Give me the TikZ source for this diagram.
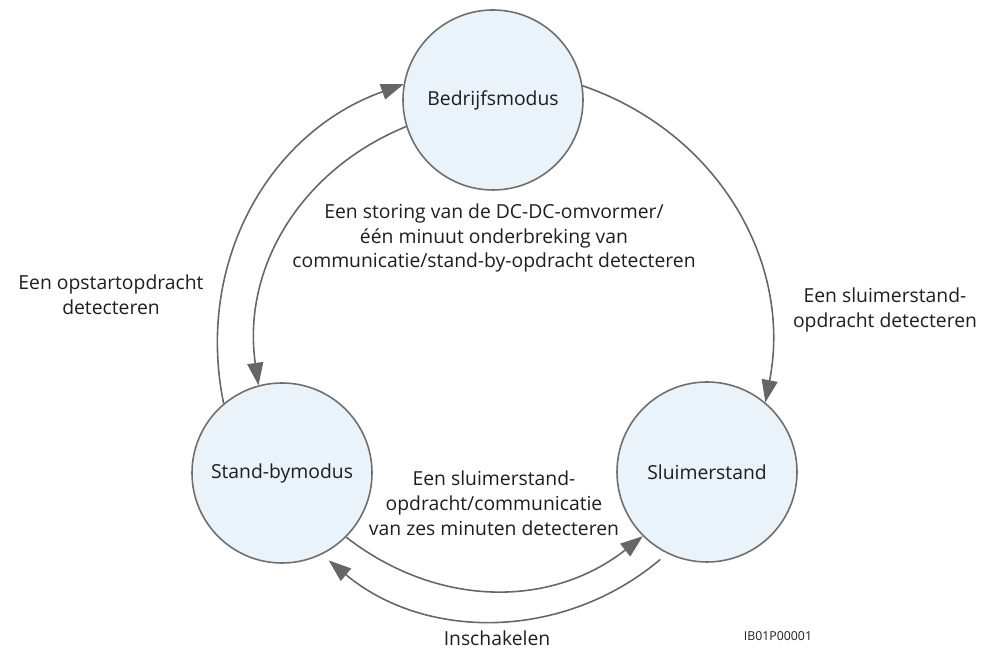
\documentclass[tikz,border=0pt]{standalone}
\usepackage{fontspec}
\setmainfont{Open Sans}
\usepackage{tikz}
\usetikzlibrary{arrows.meta, positioning}

\definecolor{statefill}{HTML}{EAF3FA}
\definecolor{stateline}{HTML}{6E6E6E}
\definecolor{arrowgray}{HTML}{666666}
\definecolor{textgray}{HTML}{1E1E1E}

\begin{document}
\begin{tikzpicture}[
        state/.style={circle, draw=stateline, fill=statefill, line width=0.9pt, minimum size=3.6cm, inner sep=0pt, align=center, font=\fontsize{11}{14}\selectfont, text=textgray},
        lbl/.style={align=center, font=\fontsize{11}{14.2}\selectfont, text=textgray},
        arrow/.style={-{Triangle[length=0.45cm, width=0.32cm]}, line width=0.9pt, arrowgray}
    ]
        \useasboundingbox (0,0) rectangle (19.8,13.14);

        % States
        \node[state] (bm) at (9.86,11.14) {Bedrijfsmodus};
        \node[state] (sb) at (5.64,3.68) {Stand-bymodus};
        \node[state] (sl) at (14.14,3.70) {Sluimerstand};

        % Transitions
        \draw[arrow] (bm.9) to[bend left=41] (sl.50);
        \draw[arrow] (sb.130) to[bend left=41] (bm.170);
        \draw[arrow] (bm.197) to[bend right=38] (sb.105);
        \draw[arrow] (sb.-45) to[bend right=38] (sl.225);
        \draw[arrow, shorten <=0.18cm, shorten >=0.18cm] (sl.244) to[bend left=40] (sb.296);

        % Labels
        \node[lbl] (lopstart) at (2.22,7.24) {Een opstartopdracht\\detecteren};
        \node[lbl] (lsluimer) at (17.7,6.94) {Een sluimerstand-\\opdracht detecteren};
        \node[lbl] (lstoring) at (9.88,8.38) {Een storing van de DC-DC-omvormer/\\één minuut onderbreking van\\communicatie/stand-by-opdracht detecteren};
        \node[lbl] (lzes) at (9.88,3.08) {Een sluimerstand-\\opdracht/communicatie\\van zes minuten detecteren};
        \node[lbl] (linsch) at (9.94,0.38) {Inschakelen};
        \node[font=\fontsize{7}{8}\selectfont, text=textgray] (code) at (15.56,0.42) {IB01P00001};

    \end{tikzpicture}
\end{document}
